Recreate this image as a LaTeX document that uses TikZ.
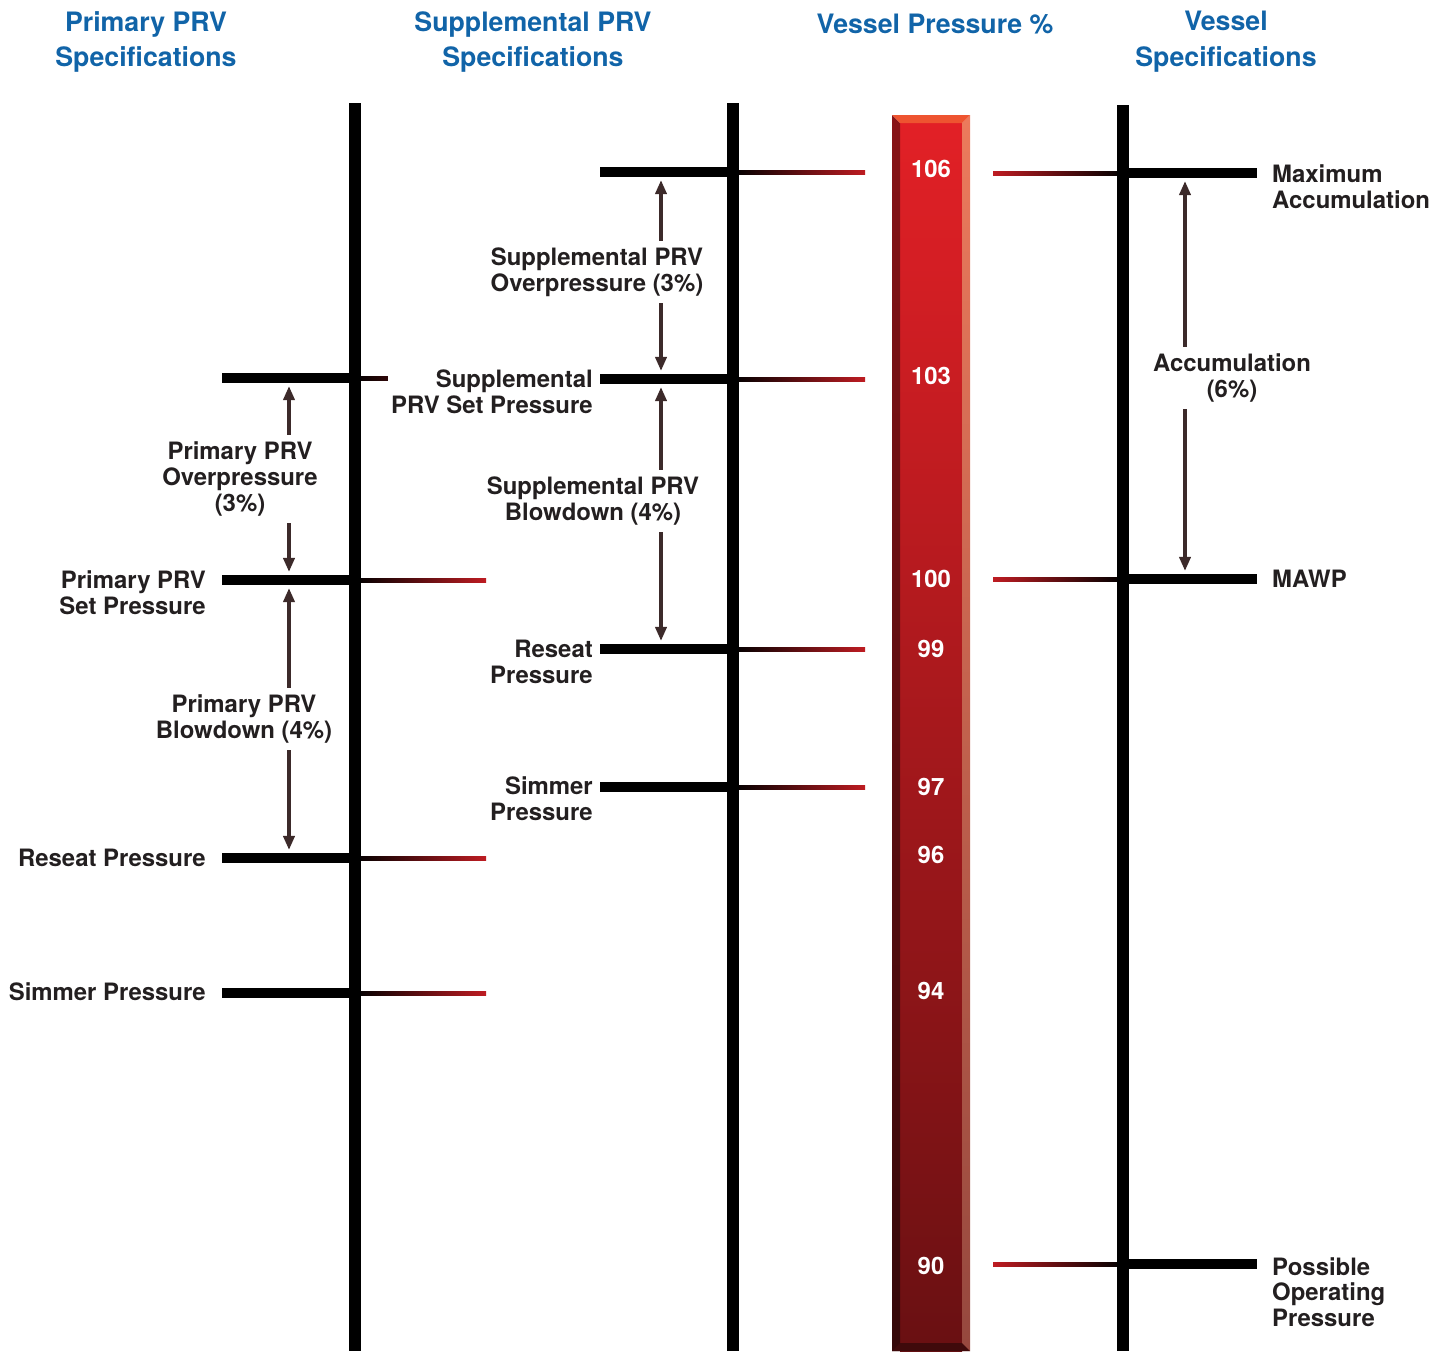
\documentclass[tikz,border=0pt]{standalone}
\usepackage{fontspec}
\setmainfont{TeX Gyre Heros}
\usetikzlibrary{arrows.meta}
\definecolor{headblue}{RGB}{17,100,168}
\definecolor{txtc}{RGB}{35,31,32}
\definecolor{arrowc}{RGB}{60,42,42}
\definecolor{barTop}{RGB}{226,32,38}
\definecolor{barBot}{RGB}{105,16,18}
\definecolor{barSideR}{RGB}{236,122,92}
\definecolor{barSideRb}{RGB}{150,72,62}
\definecolor{redline}{RGB}{190,28,34}
\tikzset{
  vline/.style={line width=0.12cm, black},
  tickline/.style={line width=0.1cm, black},
  dimarrow/.style={draw=arrowc, line width=0.035cm,
    {Triangle[length=0.14cm,width=0.11cm]}-{Triangle[length=0.14cm,width=0.11cm]},
    shorten <=0.08cm, shorten >=0.08cm},
  lbl/.style={text=txtc, inner sep=1pt, font=\bfseries\fontsize{6.8}{7.3}\selectfont},
  gap/.style={lbl, fill=white, align=center, inner sep=2pt},
  head/.style={text=headblue, align=center, inner sep=0pt, font=\bfseries\fontsize{7.6}{10.2}\selectfont},
  num/.style={text=white, inner sep=0pt, font=\bfseries\fontsize{6.8}{7.3}\selectfont}
}
\begin{document}
\begin{tikzpicture}[x=0.01cm, y=-0.01cm]
\useasboundingbox (0,0) rectangle (1451,1351);

\node[head] (hprim) at (146,42) {Primary PRV\\Specifications};
\node[head] (hsupp) at (533,42) {Supplemental PRV\\Specifications};
\node[head] (hbar) at (935,24) {Vessel Pressure \%};
\node[head] (hvess) at (1226,42) {Vessel\\Specifications};

\shade[top color=barTop, bottom color=barBot] (900,123) rectangle (962,1351);
\shade[top color=barTop!60!black, bottom color=barBot!50!black] (892,115) -- (900,123) -- (900,1351) -- (892,1351) -- cycle;
\shade[top color=barSideR, bottom color=barSideRb] (970,115) -- (962,123) -- (962,1351) -- (970,1351) -- cycle;
\fill[barTop!65!orange!90!white] (892,115) -- (970,115) -- (962,123) -- (900,123) -- cycle;
\fill[barBot!60!black] (892,1351) -- (900,1343) -- (962,1343) -- (970,1351) -- cycle;

\foreach \yy in {378,580,858,993}
  \shade[left color=black, middle color=redline, right color=redline] (355,\yy-2) rectangle (486,\yy+2);
\foreach \yy in {172,379,649,787}
  \shade[left color=black, middle color=redline, right color=redline] (733,\yy-2) rectangle (865,\yy+2);
\foreach \yy in {173,579,1264}
  \shade[left color=redline, middle color=redline, right color=black] (993,\yy-2) rectangle (1123,\yy+2);

\draw[vline] (355,103) -- (355,1351);
\draw[vline] (733,103) -- (733,1351);
\draw[vline] (1123,105) -- (1123,1351);

\foreach \yy in {378,580,858,993}
  \draw[tickline] (222,\yy) -- (355,\yy);
\foreach \yy in {172,379,649,787}
  \draw[tickline] (600,\yy) -- (733,\yy);
\foreach \yy in {173,579,1264}
  \draw[tickline] (1123,\yy) -- (1257,\yy);

\foreach \val/\yy in {106/169,103/376,100/579,99/649,97/787,96/855,94/991,90/1266}
  \node[num] (n\val) at (931,\yy) {\val};

\coordinate (p103) at (289,378);
\coordinate (p100) at (289,580);
\coordinate (p96) at (289,858);
\coordinate (s106) at (661,172);
\coordinate (s103) at (661,379);
\coordinate (s99) at (661,649);
\coordinate (v106) at (1185,173);
\coordinate (v100) at (1185,579);

\draw[dimarrow] (p103) -- (p100);
\draw[dimarrow] (p100) -- (p96);
\draw[dimarrow] (s106) -- (s103);
\draw[dimarrow] (s103) -- (s99);
\draw[dimarrow] (v106) -- (v100);

\node[gap] (pover) at (240,479) {Primary PRV\\Overpressure\\(3\%)};
\node[gap] (pblow) at (244,719) {Primary PRV\\Blowdown (4\%)};
\node[gap] (sover) at (597,272) {Supplemental PRV\\Overpressure (3\%)};
\node[gap] (sblow) at (593,501) {Supplemental PRV\\Blowdown (4\%)};
\node[gap] (vacc) at (1232,378) {Accumulation\\(6\%)};

\node[lbl, fill=white, align=right, anchor=east] (sset) at (597,392) {Supplemental\\PRV Set Pressure};
\node[lbl, align=right, anchor=east] (pset) at (210,593) {Primary PRV\\Set Pressure};
\node[lbl, anchor=east] (preseat) at (210,858) {Reseat Pressure};
\node[lbl, anchor=east] (psimmer) at (210,992) {Simmer Pressure};
\node[lbl, align=right, anchor=east] (sreseat) at (597,662) {Reseat\\Pressure};
\node[lbl, align=right, anchor=east] (ssimmer) at (597,799) {Simmer\\Pressure};
\node[lbl, align=left, anchor=west] (vmax) at (1268,187) {Maximum\\Accumulation};
\node[lbl, anchor=west] (vmawp) at (1268,579) {MAWP};
\node[lbl, align=left, anchor=west] (vop) at (1268,1292) {Possible\\Operating\\Pressure};
\end{tikzpicture}
\end{document}
